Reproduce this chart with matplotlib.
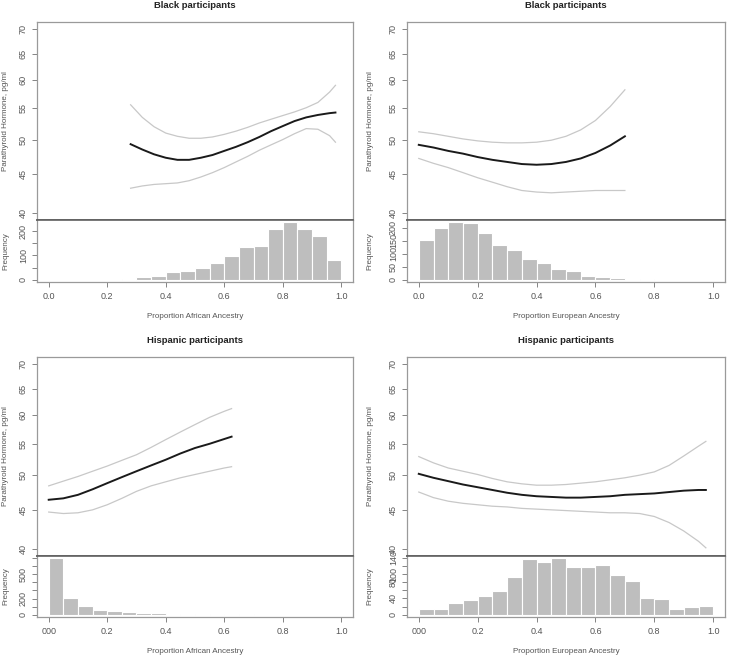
import numpy as np
import matplotlib
matplotlib.use("Agg")
import matplotlib.pyplot as plt
from matplotlib.ticker import FixedLocator, NullLocator, FixedFormatter

plt.rcParams['font.family'] = ['Liberation Sans', 'DejaVu Sans']

# ---------------- data ----------------
titles = ["Black participants", "Black participants", "Hispanic participants", "Hispanic participants"]
xlabels = ["Proportion African Ancestry", "Proportion European Ancestry",
           "Proportion African Ancestry", "Proportion European Ancestry"]

# Panel 1: Black, African ancestry
p1_x = [0.28, 0.32, 0.36, 0.40, 0.44, 0.48, 0.52, 0.56, 0.60, 0.64, 0.68, 0.72, 0.76, 0.80, 0.84, 0.88, 0.92, 0.96, 0.98]
p1_fit = [49.3, 48.5, 47.8, 47.3, 47.0, 47.0, 47.3, 47.7, 48.3, 48.9, 49.6, 50.4, 51.3, 52.1, 52.9, 53.5, 53.9, 54.2, 54.3]
p1_up = [55.6, 53.5, 52.0, 51.0, 50.5, 50.2, 50.2, 50.4, 50.8, 51.3, 51.9, 52.6, 53.2, 53.8, 54.4, 55.1, 56.0, 57.8, 59.0]
p1_lo = [43.1, 43.4, 43.6, 43.7, 43.8, 44.1, 44.6, 45.2, 45.9, 46.7, 47.5, 48.4, 49.2, 50.0, 50.9, 51.7, 51.6, 50.6, 49.6]
p1_bin_start = 0.25
p1_counts = [1, 13, 16, 30, 37, 47, 67, 97, 133, 140, 209, 237, 210, 179, 80]

# Panel 2: Black, European ancestry
p2_x = [0.0, 0.05, 0.10, 0.15, 0.20, 0.25, 0.30, 0.35, 0.40, 0.45, 0.50, 0.55, 0.60, 0.65, 0.70]
p2_fit = [49.2, 48.8, 48.3, 47.9, 47.4, 47.0, 46.7, 46.4, 46.3, 46.4, 46.7, 47.2, 48.0, 49.1, 50.5]
p2_up = [51.2, 50.9, 50.5, 50.1, 49.8, 49.6, 49.5, 49.5, 49.6, 49.9, 50.5, 51.5, 53.0, 55.3, 58.2]
p2_lo = [47.2, 46.5, 45.9, 45.2, 44.5, 43.9, 43.3, 42.8, 42.6, 42.5, 42.6, 42.7, 42.8, 42.8, 42.8]
p2_bin_start = 0.0
p2_counts = [152, 200, 221, 220, 181, 132, 115, 80, 63, 40, 35, 16, 11, 8, 0, 1]

# Panel 3: Hispanic, African ancestry
p3_x = [0.0, 0.05, 0.10, 0.15, 0.20, 0.25, 0.30, 0.35, 0.40, 0.45, 0.50, 0.55, 0.60, 0.625]
p3_fit = [46.4, 46.6, 47.1, 47.9, 48.8, 49.7, 50.6, 51.5, 52.4, 53.4, 54.3, 55.0, 55.8, 56.2]
p3_up = [48.4, 49.1, 49.8, 50.6, 51.4, 52.3, 53.2, 54.4, 55.7, 57.0, 58.3, 59.6, 60.7, 61.2]
p3_lo = [44.7, 44.5, 44.6, 45.0, 45.7, 46.6, 47.6, 48.4, 49.0, 49.6, 50.1, 50.6, 51.1, 51.3]
p3_bin_start = 0.0
p3_counts = [696, 212, 108, 62, 46, 37, 25, 25, 12, 12, 15, 15, 8, 3, 2, 2, 2, 1, 2, 2]

# Panel 4: Hispanic, European ancestry
p4_x = [0.0, 0.05, 0.10, 0.15, 0.20, 0.25, 0.30, 0.35, 0.40, 0.45, 0.50, 0.55, 0.60, 0.65, 0.70, 0.75, 0.80, 0.85, 0.90, 0.95, 0.975]
p4_fit = [50.2, 49.6, 49.1, 48.6, 48.2, 47.8, 47.4, 47.1, 46.9, 46.8, 46.7, 46.7, 46.8, 46.9, 47.1, 47.2, 47.3, 47.5, 47.7, 47.8, 47.8]
p4_up = [52.9, 51.9, 51.1, 50.6, 50.1, 49.5, 49.0, 48.7, 48.5, 48.5, 48.6, 48.8, 49.0, 49.3, 49.6, 50.0, 50.5, 51.5, 53.0, 54.6, 55.4]
p4_lo = [47.5, 46.7, 46.2, 45.9, 45.7, 45.5, 45.4, 45.2, 45.1, 45.0, 44.9, 44.8, 44.7, 44.6, 44.6, 44.5, 44.1, 43.3, 42.2, 40.9, 40.1]
p4_bin_start = 0.0
p4_counts = [15, 13, 30, 36, 45, 59, 92, 136, 131, 139, 117, 117, 122, 99, 82, 40, 38, 15, 20, 22]

bin_width = 0.05
pth_ticks = [40, 45, 50, 55, 60, 65, 70]
x_ticks = [0.0, 0.2, 0.4, 0.6, 0.8, 1.0]
x_ticklabels_a = ["0.0", "0.2", "0.4", "0.6", "0.8", "1.0"]
freq_ticks = [[0, 50, 100, 150, 200], [0, 50, 100, 150, 200],
              [0, 100, 200, 300, 400, 500, 600, 700], [0, 20, 40, 60, 80, 100, 120, 140]]
freq_labels = [{0: "0", 100: "100", 200: "200"},
               {0: "0", 50: "50", 100: "100", 150: "150", 200: "200"},
               {0: "0", 200: "200", 500: "500"},
               {0: "0", 40: "40", 80: "80", 100: "100", 140: "140"}]

panels = [
    (p1_x, p1_fit, p1_up, p1_lo, p1_bin_start, p1_counts),
    (p2_x, p2_fit, p2_up, p2_lo, p2_bin_start, p2_counts),
    (p3_x, p3_fit, p3_up, p3_lo, p3_bin_start, p3_counts),
    (p4_x, p4_fit, p4_up, p4_lo, p4_bin_start, p4_counts),
]

# ---------------- layout (pixels) ----------------
W, H = 729, 656
boxes = [  # left, right, top, sep, bottom
    (37, 353, 22, 220, 282),
    (407, 725, 22, 220, 282),
    (37, 353, 357, 556, 617),
    (407, 725, 357, 556, 617),
]

fig = plt.figure(figsize=(W / 100, H / 100), dpi=100)
fig.patch.set_facecolor("white")

box_col = "#9a9a9a"
sep_col = "#606060"
tick_col = "#707070"
lab_col = "#555555"
fs_tick = 6.5
fs_lab = 5.8
fs_title = 6.8

def fax(l, r, t, b):
    return fig.add_axes([l / W, 1 - b / H, (r - l) / W, (b - t) / H])

for i, (px, pfit, pup, plo, bstart, counts) in enumerate(panels):
    l, r, t, s, b = boxes[i]
    ax = fax(l, r, t, s)
    hx = fax(l, r, s, b)

    # --- curve panel ---
    ax.plot(px, pup, color="#c8c8c8", lw=0.9)
    ax.plot(px, plo, color="#c8c8c8", lw=0.9)
    ax.plot(px, pfit, color="#1a1a1a", lw=1.4)
    ax.set_yscale("log")
    lo, hi = np.log(40), np.log(70)
    pad = 0.04 * (hi - lo)
    ax.set_ylim(np.exp(lo - pad), np.exp(hi + pad))
    ax.set_xlim(-0.04, 1.04)
    ax.yaxis.set_major_locator(FixedLocator(pth_ticks))
    ax.yaxis.set_major_formatter(FixedFormatter([str(v) for v in pth_ticks]))
    ax.yaxis.set_minor_locator(NullLocator())
    ax.set_xticks([])
    ax.tick_params(axis="y", direction="out", length=3.5, width=0.6, color=tick_col,
                   labelsize=fs_tick, labelcolor=lab_col, pad=3)
    for lbl in ax.get_yticklabels():
        lbl.set_rotation(90)
        lbl.set_va("center")
    for sp in ax.spines.values():
        sp.set_color(box_col)
        sp.set_linewidth(0.9)
    ax.spines["bottom"].set_color(sep_col)
    ax.spines["bottom"].set_linewidth(1.2)
    ax.set_ylabel("Parathyroid Hormone, pg/ml", fontsize=fs_lab, color=lab_col)
    ax.set_title(titles[i], fontsize=fs_title, fontweight="bold", color="#222222", pad=10)

    # --- histogram panel ---
    edges = bstart + bin_width * np.arange(len(counts))
    hx.bar(edges, counts, width=bin_width, align="edge", color="#bebebe",
           edgecolor="white", linewidth=0.8)
    M = max(counts)
    hx.set_ylim(-0.04 * M, 1.04 * M)
    hx.set_xlim(-0.04, 1.04)
    hx.yaxis.set_major_locator(FixedLocator(freq_ticks[i]))
    hx.yaxis.set_major_formatter(FixedFormatter([freq_labels[i].get(v, "") for v in freq_ticks[i]]))
    hx.set_xticks(x_ticks)
    if i >= 2:
        hx.set_xticklabels(["000"] + x_ticklabels_a[1:])
    else:
        hx.set_xticklabels(x_ticklabels_a)
    hx.tick_params(axis="both", direction="out", length=3.5, width=0.6, color=tick_col,
                   labelsize=fs_tick, labelcolor=lab_col, pad=3)
    hx.tick_params(axis="x", pad=4)
    for lbl in hx.get_yticklabels():
        lbl.set_rotation(90)
        lbl.set_va("center")
    for sp in hx.spines.values():
        sp.set_color(box_col)
        sp.set_linewidth(0.9)
    hx.spines["top"].set_color(sep_col)
    hx.spines["top"].set_linewidth(1.2)
    hx.set_ylabel("Frequency", fontsize=fs_lab, color=lab_col)
    hx.set_xlabel(xlabels[i], fontsize=fs_lab, color=lab_col, labelpad=8)

    # y labels centred ~6 px from the panel column's left side
    col_left = 0 if i % 2 == 0 else 364
    lx = (col_left + 6 - l) / (r - l)
    for a in (ax, hx):
        a.yaxis.label.set_va("center")
        a.yaxis.set_label_coords(lx, 0.5)

fig.savefig("out.png", dpi=100, facecolor="white")
